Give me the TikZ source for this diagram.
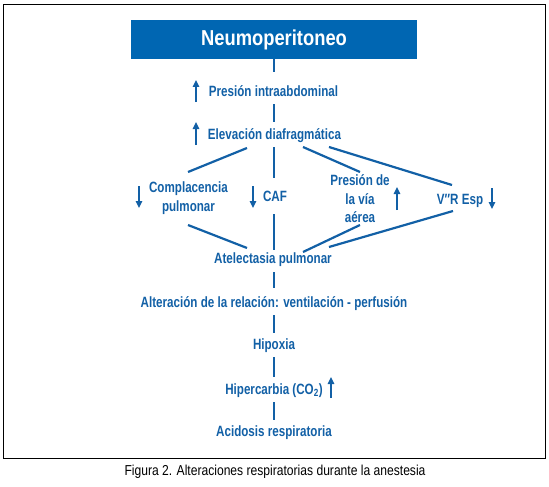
\documentclass[tikz,border=0pt]{standalone}
\usepackage{fontspec}
\setmainfont{Liberation Sans}
\newfontfamily\labfont[FakeStretch=0.78]{Liberation Sans}
\newfontfamily\titlefont[FakeStretch=0.85]{Liberation Sans}
\newfontfamily\capfont[FakeStretch=0.84]{Liberation Sans}
\usetikzlibrary{arrows.meta,calc}
\definecolor{boxblue}{RGB}{0,102,178}
\definecolor{ink}{RGB}{18,96,166}
\begin{document}
\begin{tikzpicture}[x=1pt,y=-1pt,
  lab/.style={text=ink, font=\labfont\bfseries\fontsize{14.9}{18.5}\selectfont, inner sep=0pt, text height=10pt, text depth=3pt},
  mlab/.style={text=ink, font=\labfont\bfseries\fontsize{14.9}{18.5}\selectfont, inner sep=0pt, align=center},
  link/.style={draw=ink, line width=2.2pt},
  arr/.style={draw=ink, line width=1.3pt, -{Triangle[width=6.5pt,length=7pt]}},
]
\useasboundingbox (0,0) rectangle (549,487);
\draw[line width=1pt] (3,4.5) rectangle (545,458);
\node[fill=boxblue, minimum width=286pt, minimum height=39pt, inner sep=0pt, text=white,
  font=\titlefont\bfseries\fontsize{21.6}{24}\selectfont] (title) at (274,39.5) {Neumoperitoneo};
\node[lab] (pia) at (273.5,93) {Presión intraabdominal};
\node[lab] (ed) at (274.5,136) {Elevación diafragmática};
\node[mlab] (comp) at (188.5,198) {Complacencia\\pulmonar};
\node[lab] (caf) at (275,198) {CAF};
\node[mlab] (pres) at (360,199) {Presión de\\la vía\\aérea};
\node[lab] (vr) at (460,201) {V″R Esp};
\node[lab] (atel) at (273,260) {Atelectasia pulmonar};
\node[lab] (alt) at (274,304) {Alteración de la relación: ventilación - perfusión};
\node[lab] (hip) at (274,346) {Hipoxia};
\node[lab] (hiper) at (274,391) {Hipercarbia (CO\textsubscript{2})};
\node[lab] (acid) at (274,433) {Acidosis respiratoria};
\node[font=\capfont\fontsize{14.4}{16}\selectfont, inner sep=0pt] (cap) at (275,472) {Figura 2. Alteraciones respiratorias durante la anestesia};
% vertical trunk
\draw[link, shorten >=14.5pt] (title.south) -- (title.south |- pia.north);
\draw[link, shorten <=4.5pt, shorten >=7.5pt] (title.south |- pia.south) -- (title.south |- ed.north);
\draw[link, shorten <=4.5pt, shorten >=13.5pt] (title.south |- ed.south) -- (title.south |- caf.north);
\draw[link, shorten <=9.5pt, shorten >=3.5pt] (title.south |- caf.south) -- (title.south |- atel.north);
\draw[link, shorten <=5.5pt, shorten >=9.5pt] (title.south |- atel.south) -- (title.south |- alt.north);
\draw[link, shorten <=4.5pt, shorten >=6.5pt] (title.south |- alt.south) -- (title.south |- hip.north);
\draw[link, shorten <=4.5pt, shorten >=7.5pt] (title.south |- hip.south) -- (title.south |- hiper.north);
\draw[link, shorten <=4.5pt, shorten >=6.5pt] (title.south |- hiper.south) -- (title.south |- acid.north);
% branches
\draw[link] ($(ed.center)+(-27.5,12)$) -- ($(comp.center)+(-0.5,-26)$);
\draw[link] ($(ed.center)+(28.5,11)$) -- ($(pres.center)+(0,-27)$);
\draw[link] ($(ed.center)+(54.5,11)$) -- ($(vr.center)+(-8,-16)$);
\draw[link] ($(comp.center)+(-0.5,27)$) -- ($(atel.center)+(-26,-12)$);
\draw[link] ($(pres.center)+(0,26)$) -- ($(atel.center)+(30,-8)$);
\draw[link] ($(vr.center)+(-7,10)$) -- ($(atel.center)+(56,-13)$);
% arrows
\draw[arr] ($(pia.center)+(-77.5,9)$) -- ++(0,-22);
\draw[arr] ($(ed.center)+(-78.5,9)$) -- ++(0,-23);
\draw[arr] ($(comp.center)+(-49.5,-12)$) -- ++(0,22);
\draw[arr] ($(caf.center)+(-22,-12)$) -- ++(0,22);
\draw[arr] ($(pres.center)+(37,11)$) -- ++(0,-23);
\draw[arr] ($(vr.center)+(32,-13)$) -- ++(0,21);
\draw[arr] ($(hiper.center)+(57,7)$) -- ++(0,-21);
\end{tikzpicture}
\end{document}
